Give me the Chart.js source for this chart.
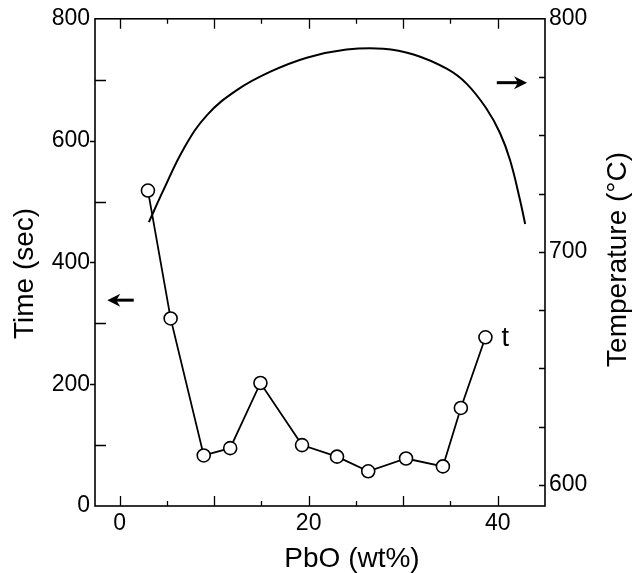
<!DOCTYPE html>
<html><head><meta charset="utf-8">
<script src="https://cdn.jsdelivr.net/npm/chart.js@4/dist/chart.umd.min.js"></script>
<style>html,body{margin:0;padding:0;background:#fff;}#wrap{width:633px;height:573px;}</style>
</head><body><div id="wrap"><canvas id="c" width="633" height="573"></canvas></div>
<script>
// ---- data ----
const pboX = [3.0, 5.4, 8.9, 11.7, 14.9, 19.3, 23.0, 26.3, 30.3, 34.2, 36.1, 38.7];
const timeSec = [518, 308, 83, 95, 202, 100, 81, 57, 78, 65, 161, 277];
const tempX = [3.1, 4.65, 6.8, 9.25, 12.4, 15.9, 19.8, 24.0, 27.9, 31.1, 34.6, 36.7, 38.8, 40.25, 41.3, 42.35, 42.9];
const tempC = [712.8, 726.6, 744.4, 758.7, 769.4, 777.2, 783.3, 786.8, 787.2, 784.7, 778.6, 772.2, 761.5, 750.9, 739.4, 722.4, 712.0];
const xLabelValues = [0, 20, 40];
const yLabelValues = [0, 200, 400, 600, 800];
const y1LabelValues = [600, 700, 800];
const xTitle = 'PbO (wt%)';
const yTitle = 'Time (sec)';
const y1Title = 'Temperature (°C)';
const seriesLabel = 't';
// annotation positions in data units
const tLabelPos = [40.4, 262];
const leftArrow = [1.5, -1.3, 338];     // x from, x to (tip), time
const rightArrow = [39.9, 43.1, 772.6]; // x from, x to (tip), temperature

const FONT = "'Liberation Sans', Arial, Helvetica, sans-serif";

const decor = {
  id: 'decor',
  afterDatasetsDraw(chart) {
    const ctx = chart.ctx, a = chart.chartArea;
    const sx = chart.scales.x, sy = chart.scales.y, sy1 = chart.scales.y1;
    ctx.save();
    ctx.strokeStyle = '#000';
    ctx.fillStyle = '#000';
    ctx.lineWidth = 1.6;
    ctx.strokeRect(a.left, a.top, a.right - a.left, a.bottom - a.top);
    ctx.lineWidth = 1.3;
    ctx.beginPath();
    sx.ticks.forEach(t => {
      const v = t.value;
      if (v <= sx.min || v >= sx.max) return;
      const p = Math.round(sx.getPixelForValue(v)) + 0.5;
      const L = (v % 10 === 0) ? 10 : 5;
      ctx.moveTo(p, a.bottom); ctx.lineTo(p, a.bottom - L);
      ctx.moveTo(p, a.top); ctx.lineTo(p, a.top + L);
    });
    sy.ticks.forEach(t => {
      const v = t.value;
      if (v <= sy.min || v >= sy.max) return;
      const p = Math.round(sy.getPixelForValue(v)) + 0.5;
      if (v % 200 === 0) { ctx.moveTo(a.left, p); ctx.lineTo(a.left - 5, p); }
      else { ctx.moveTo(a.left, p); ctx.lineTo(a.left + 11, p); }
    });
    sy1.ticks.forEach(t => {
      const v = t.value;
      if (v <= sy1.min || v >= sy1.max) return;
      const p = Math.round(sy1.getPixelForValue(v)) + 0.5;
      ctx.moveTo(a.right, p); ctx.lineTo(a.right - 6, p);
    });
    ctx.stroke();

    function arrow(x0, x1, y) {
      const dir = Math.sign(x1 - x0);
      ctx.lineWidth = 3;
      ctx.beginPath();
      ctx.moveTo(x0, y); ctx.lineTo(x1 - dir * 8, y);
      ctx.stroke();
      ctx.beginPath();
      ctx.moveTo(x1, y);
      ctx.lineTo(x1 - dir * 13, y - 6.5);
      ctx.lineTo(x1 - dir * 9, y);
      ctx.lineTo(x1 - dir * 13, y + 6.5);
      ctx.closePath();
      ctx.fill();
    }
    arrow(sx.getPixelForValue(leftArrow[0]), sx.getPixelForValue(leftArrow[1]), sy.getPixelForValue(leftArrow[2]));
    arrow(sx.getPixelForValue(rightArrow[0]), sx.getPixelForValue(rightArrow[1]), sy1.getPixelForValue(rightArrow[2]));

    ctx.font = '27px ' + FONT;
    ctx.textAlign = 'left';
    ctx.textBaseline = 'alphabetic';
    ctx.fillText(seriesLabel, sx.getPixelForValue(tLabelPos[0]), sy.getPixelForValue(tLabelPos[1]));

    ctx.font = '28px ' + FONT;
    ctx.textAlign = 'center';
    ctx.fillText(xTitle, (a.left + a.right) / 2 + 32, a.bottom + 61);
    ctx.save();
    ctx.translate(33, (a.top + a.bottom) / 2 + 11);
    ctx.rotate(-Math.PI / 2);
    ctx.fillText(yTitle, 0, 0);
    ctx.restore();
    ctx.save();
    ctx.translate(626, (a.top + a.bottom) / 2 - 3);
    ctx.rotate(-Math.PI / 2);
    ctx.fillText(y1Title, 0, 0);
    ctx.restore();
    ctx.restore();
  }
};

const tickFont = { family: FONT, size: 23 };

new Chart(document.getElementById('c'), {
  type: 'line',
  data: {
    datasets: [
      {
        label: 't',
        data: pboX.map((x, i) => ({ x, y: timeSec[i] })),
        yAxisID: 'y',
        borderColor: '#000',
        borderWidth: 1.8,
        pointRadius: 6.5,
        pointBorderWidth: 1.6,
        pointBackgroundColor: '#fff',
        pointBorderColor: '#000',
        tension: 0,
        order: 0
      },
      {
        label: 'T',
        data: tempX.map((x, i) => ({ x, y: tempC[i] })),
        yAxisID: 'y1',
        borderColor: '#000',
        borderWidth: 2,
        pointRadius: 0,
        tension: 0.4,
        order: 1
      }
    ]
  },
  options: {
    responsive: false,
    animation: false,
    devicePixelRatio: 1,
    layout: { padding: { top: 15, left: 0, right: 0, bottom: 0 } },
    plugins: { legend: { display: false }, tooltip: { enabled: false } },
    scales: {
      x: {
        type: 'linear', position: 'bottom', min: -2.6, max: 45,
        grid: { drawOnChartArea: false, drawTicks: false },
        border: { display: false },
        ticks: {
          stepSize: 5, includeBounds: false, autoSkip: false, maxRotation: 0,
          color: '#000', font: tickFont, padding: 4,
          callback: v => xLabelValues.includes(v) ? String(v) : ''
        },
        afterFit: s => { s.height = 67; }
      },
      y: {
        type: 'linear', position: 'left', min: 0, max: 800,
        grid: { drawOnChartArea: false, drawTicks: false },
        border: { display: false },
        ticks: {
          stepSize: 100, autoSkip: false, color: '#000', font: tickFont, padding: 5,
          callback: v => yLabelValues.includes(v) ? String(v) : ''
        },
        afterFit: s => { s.width = 95; }
      },
      y1: {
        type: 'linear', position: 'right', min: 591, max: 800,
        grid: { drawOnChartArea: false, drawTicks: false },
        border: { display: false },
        ticks: {
          stepSize: 25, includeBounds: false, autoSkip: false, color: '#000', font: tickFont, padding: 4,
          callback: v => y1LabelValues.includes(v) ? String(v) : ''
        },
        afterFit: s => { s.width = 88; }
      }
    }
  },
  plugins: [decor]
});
</script></body></html>
